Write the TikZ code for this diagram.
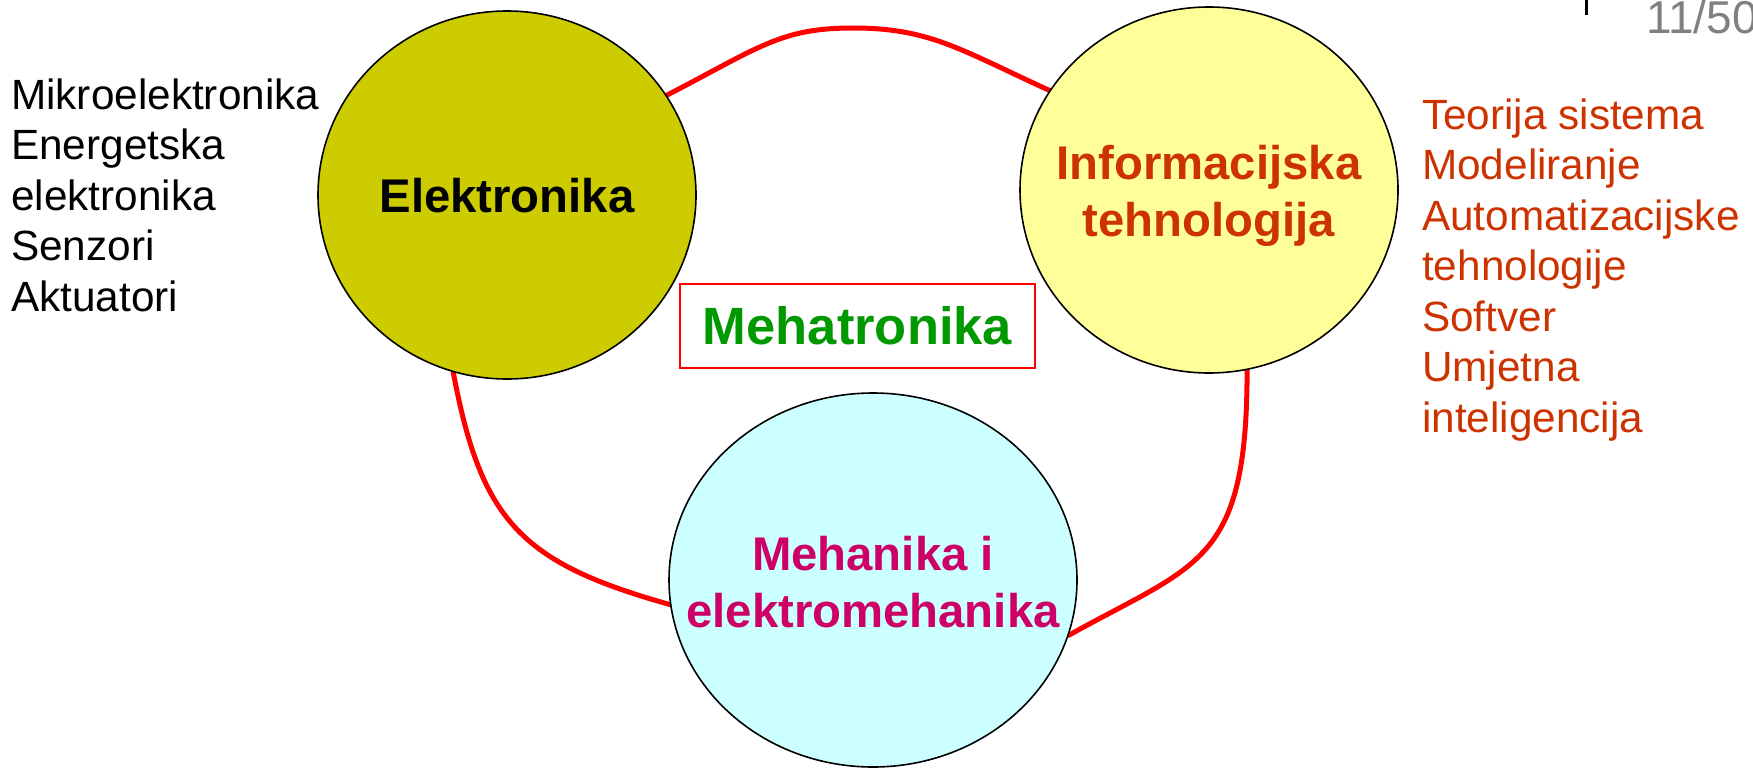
\documentclass[tikz,border=0pt]{standalone}
\usepackage{fontspec}
\setmainfont{Liberation Sans}
\usetikzlibrary{shapes.geometric,backgrounds}

\definecolor{elekfill}{HTML}{CCCC00}
\definecolor{infofill}{HTML}{FFFF99}
\definecolor{mehfill}{HTML}{CCFFFF}
\definecolor{infotext}{HTML}{CC3300}
\definecolor{mehtext}{HTML}{CC0066}
\definecolor{mechgreen}{HTML}{009900}
\definecolor{pagegray}{HTML}{808080}

\tikzset{
  disc/.style={ellipse, draw=black, line width=1.6pt, inner sep=0pt, outer sep=0pt},
  link/.style={draw=red, line width=5pt},
  bigbold/.style={font=\bfseries\fontsize{47.3}{57}\selectfont, align=center, inner sep=0pt},
  listtext/.style={font=\fontsize{42.3}{50.5}\selectfont, align=left, inner sep=0pt, anchor=base west},
}

\begin{document}
\begin{tikzpicture}[x=1pt, y=-1pt]
\useasboundingbox (0,0) rectangle (1753,768);
\clip (0,0) rectangle (1753,768);

% the three discipline discs
\node[disc, fill=elekfill, minimum width=378pt, minimum height=368pt] (elek) at (507,195) {};
\node[disc, fill=infofill, minimum width=378pt, minimum height=366pt] (info) at (1209,190) {};
\node[disc, fill=mehfill, minimum width=408pt, minimum height=374pt] (meh) at (873,580) {};

% disc titles (base anchor sits on the last line)
\node[bigbold, anchor=base] (elekT) at (507,212) {Elektronika};
\node[bigbold, anchor=base, text=infotext] (infoT) at (1209,236) {Informacijska\\tehnologija};
\node[bigbold, anchor=base, text=mehtext] (mehT) at (873,627) {Mehanika i\\elektromehanika};

% central label
\node[draw=red, line width=2.2pt, minimum width=355pt, minimum height=84pt, inner sep=0pt,
      text=mechgreen, font=\bfseries\fontsize{52.5}{60}\selectfont] (mech) at (857.5,326) {Mehatronika};

% red links between the discs, kept behind them
\coordinate (peak) at (853,28);
\begin{pgfonlayer}{background}
\draw[link] (elek.32.5) .. controls +(93,-48) and +(-73,0) .. (peak)
            .. controls +(77,0) and +(-90,-41) .. (info.148);
\draw[link] (elek.-107.4) .. controls +(28,150) and +(-150,-42) .. (meh.187.3);
\draw[link] (info.-78.1) .. controls +(0,195) and +(131,-73) .. (meh.-16.3);
\end{pgfonlayer}

% side lists (base anchor sits on the last line)
\node[listtext] (leftL) at (11,311) {Mikroelektronika\\Energetska\\elektronika\\Senzori\\Aktuatori};
\node[listtext, text=infotext] (rightL) at (1422,432) {Teorija sistema\\Modeliranje\\Automatizacijske\\tehnologije\\Softver\\Umjetna\\inteligencija};

% page corner
\draw[line width=3pt] (1586,0) -- (1586,15);
\node[anchor=base west, inner sep=0pt, text=pagegray, font=\fontsize{46}{50}\selectfont] (pageno) at (1646,34) {11/50};
\end{tikzpicture}
\end{document}
